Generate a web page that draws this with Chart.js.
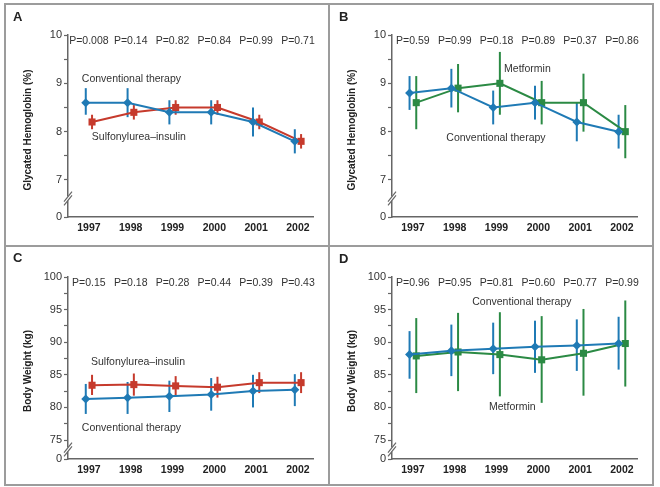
<!DOCTYPE html>
<html>
<head>
<meta charset="utf-8">
<script src="https://cdn.jsdelivr.net/npm/chart.js@4.4.0/dist/chart.umd.min.js"></script>
<style>
  body { margin: 0; background: #fff; width: 660px; height: 487px; position: relative; overflow: hidden; }
  canvas { position: absolute; }
  .frame { position: absolute; box-sizing: border-box; border: 2px solid #9c9c9c; left: 4px; top: 3px; width: 650px; height: 483px; }
  .vline { position: absolute; left: 328px; top: 3px; width: 2px; height: 483px; background: #9c9c9c; }
  .hline { position: absolute; left: 4px; top: 245px; width: 650px; height: 2px; background: #9c9c9c; }
</style>
</head>
<body>
<canvas id="chartA" width="323" height="241" style="left:5px;top:4px"></canvas>
<canvas id="chartB" width="322" height="241" style="left:330px;top:4px"></canvas>
<canvas id="chartC" width="323" height="237" style="left:5px;top:247px"></canvas>
<canvas id="chartD" width="322" height="237" style="left:330px;top:247px"></canvas>
<div class="frame"></div>
<div class="vline"></div>
<div class="hline"></div>
<script>
var years = [1997, 1998, 1999, 2000, 2001, 2002];

// y ticks (the lowest position of each axis is labelled "0" after the break)
var hbTicks = [7, 8, 9, 10];
var hbMinorTicks = [7.5, 8.5, 9.5];
var wtTicks = [75, 80, 85, 90, 95, 100];
var wtMinorTicks = [77.5, 82.5, 87.5, 92.5, 97.5];

// A - glycated hemoglobin, sulfonylurea-insulin vs conventional
var pValuesA = ['P=0.008', 'P=0.14', 'P=0.82', 'P=0.84', 'P=0.99', 'P=0.71'];
var hbConvA = [8.6, 8.6, 8.4, 8.4, 8.2, 7.8];
var hbConvALow = [8.35, 8.3, 8.15, 8.15, 7.9, 7.55];
var hbConvAHigh = [8.9, 8.9, 8.65, 8.65, 8.5, 8.05];
var hbSulf = [8.2, 8.4, 8.5, 8.5, 8.2, 7.8];
var hbSulfLow = [8.05, 8.25, 8.35, 8.35, 8.05, 7.65];
var hbSulfHigh = [8.35, 8.55, 8.65, 8.65, 8.35, 7.95];

// B - glycated hemoglobin, metformin vs conventional
var pValuesB = ['P=0.59', 'P=0.99', 'P=0.18', 'P=0.89', 'P=0.37', 'P=0.86'];
var hbConvB = [8.8, 8.9, 8.5, 8.6, 8.2, 8.0];
var hbConvBLow = [8.45, 8.5, 8.15, 8.25, 7.8, 7.65];
var hbConvBHigh = [9.15, 9.3, 8.85, 8.95, 8.6, 8.35];
var hbMet = [8.6, 8.9, 9.0, 8.6, 8.6, 8.0];
var hbMetLow = [8.05, 8.4, 8.35, 8.15, 8.0, 7.45];
var hbMetHigh = [9.15, 9.4, 9.65, 9.05, 9.2, 8.55];

// C - body weight, sulfonylurea-insulin vs conventional
var pValuesC = ['P=0.15', 'P=0.18', 'P=0.28', 'P=0.44', 'P=0.39', 'P=0.43'];
var wtConvC = [81.3, 81.5, 81.7, 82.0, 82.5, 82.7];
var wtConvCLow = [79.0, 79.0, 79.3, 79.5, 80.0, 80.2];
var wtConvCHigh = [83.6, 83.9, 84.1, 84.5, 85.0, 85.1];
var wtSulf = [83.4, 83.5, 83.3, 83.1, 83.8, 83.8];
var wtSulfLow = [81.9, 81.8, 81.8, 81.5, 82.2, 82.2];
var wtSulfHigh = [85.0, 85.2, 84.8, 84.7, 85.4, 85.4];

// D - body weight, metformin vs conventional
var pValuesD = ['P=0.96', 'P=0.95', 'P=0.81', 'P=0.60', 'P=0.77', 'P=0.99'];
var wtConvD = [88.1, 88.7, 89.0, 89.3, 89.5, 89.8];
var wtConvDLow = [84.4, 84.8, 85.1, 85.3, 85.6, 85.8];
var wtConvDHigh = [91.7, 92.7, 93.0, 93.3, 93.5, 93.9];
var wtMet = [87.9, 88.5, 88.1, 87.3, 88.3, 89.8];
var wtMetLow = [82.2, 82.5, 81.7, 80.7, 81.8, 83.2];
var wtMetHigh = [93.7, 94.5, 94.6, 94.0, 95.1, 96.4];

var blue = '#1f7ab5';
var red = '#c63a2c';
var green = '#2b8a44';
var axisColor = '#666';
var textColor = '#333';
var fontFamily = "'Liberation Sans', Arial, sans-serif";

// vertical error bars, drawn under lines and markers
var errorBars = {
    id: 'errorBars',
    beforeDatasetsDraw: function (chart) {
        var ctx = chart.ctx, xs = chart.scales.x, ys = chart.scales.y;
        chart.data.datasets.forEach(function (ds) {
            ctx.save();
            ctx.strokeStyle = ds.borderColor;
            ctx.lineWidth = 2;
            ds.data.forEach(function (p, i) {
                var px = xs.getPixelForValue(p.x);
                ctx.beginPath();
                ctx.moveTo(px, ys.getPixelForValue(ds.low[i]));
                ctx.lineTo(px, ys.getPixelForValue(ds.high[i]));
                ctx.stroke();
            });
            ctx.restore();
        });
    }
};

// panel letter, P values, series labels, y title and the axis break
var decorations = {
    id: 'decorations',
    afterDraw: function (chart, args, o) {
        var ctx = chart.ctx, xs = chart.scales.x, ys = chart.scales.y, area = chart.chartArea;
        ctx.save();
        ctx.textBaseline = 'middle';

        ctx.fillStyle = '#222';
        ctx.textAlign = 'left';
        ctx.font = 'bold 13px ' + fontFamily;
        ctx.fillText(o.letter, o.letterX, o.letterY);

        ctx.fillStyle = textColor;
        ctx.font = '10.5px ' + fontFamily;
        ctx.textAlign = 'center';
        o.pValues.forEach(function (t, i) {
            ctx.fillText(t, xs.getPixelForValue(years[i]), area.top + 6);
        });

        ctx.textAlign = 'left';
        o.notes.forEach(function (n) {
            ctx.fillText(n.text, xs.getPixelForValue(n.x), ys.getPixelForValue(n.y));
        });

        ctx.save();
        ctx.translate(o.titleX, o.titleY);
        ctx.rotate(-Math.PI / 2);
        ctx.textAlign = 'center';
        ctx.font = 'bold 10px ' + fontFamily;
        ctx.fillStyle = '#222';
        ctx.fillText(o.title, 0, 0);
        ctx.restore();

        // "//" break between the lowest labelled tick and zero
        var yb = (ys.getPixelForValue(ys.ticks[1].value) + area.bottom) / 2;
        var xb = area.left;
        ctx.fillStyle = '#fff';
        ctx.fillRect(xb - 2, yb - 2, 4, 4);
        ctx.strokeStyle = axisColor;
        ctx.lineWidth = 1.2;
        [-1.8, 1.8].forEach(function (d) {
            ctx.beginPath();
            ctx.moveTo(xb - 4, yb + d + 5);
            ctx.lineTo(xb + 4, yb + d - 5);
            ctx.stroke();
        });
        ctx.restore();
    }
};

function series(values, low, high, color, shape, shift) {
    return {
        data: values.map(function (v, i) { return { x: years[i] + shift, y: v }; }),
        low: low,
        high: high,
        borderColor: color,
        backgroundColor: color,
        borderWidth: 2,
        tension: 0,
        pointStyle: shape,
        pointRadius: shape == 'rectRot' ? 4.5 : 5,
        pointBorderWidth: 0
    };
}

function panel(id, g, yCfg, datasets, deco) {
    new Chart(document.getElementById(id), {
        type: 'line',
        data: { datasets: datasets },
        plugins: [errorBars, decorations],
        options: {
            responsive: false,
            animation: false,
            layout: { padding: { top: g.top, right: g.right, bottom: g.bottom, left: 0 } },
            plugins: { legend: { display: false }, tooltip: { enabled: false }, decorations: deco },
            scales: {
                x: {
                    type: 'linear',
                    min: 1996.5,
                    max: 2002.36,
                    afterBuildTicks: function (s) { s.ticks = years.map(function (v) { return { value: v }; }); },
                    afterFit: function (s) { s.height = 20; },
                    ticks: {
                        callback: function (v) { return String(v); },
                        autoSkip: false, maxRotation: 0, padding: 5,
                        color: '#222', font: { family: fontFamily, size: 10.5, weight: 'bold' }
                    },
                    grid: { display: false, drawTicks: false },
                    border: { display: true, color: axisColor, width: 1.5 }
                },
                y: {
                    type: 'linear',
                    min: yCfg.min,
                    max: yCfg.max,
                    afterBuildTicks: function (s) {
                        var vals = [yCfg.min].concat(yCfg.major, yCfg.minor).sort(function (a, b) { return a - b; });
                        s.ticks = vals.map(function (v) { return { value: v }; });
                    },
                    afterFit: function (s) { s.width = g.left; },
                    ticks: {
                        callback: function (v, i) {
                            if (i === 0) return '0';
                            return yCfg.major.indexOf(v) >= 0 ? String(v) : '';
                        },
                        autoSkip: false, padding: 2,
                        color: textColor, font: { family: fontFamily, size: 11 }
                    },
                    grid: { drawOnChartArea: false, tickLength: 4, tickColor: axisColor, tickWidth: 1.2 },
                    border: { color: axisColor, width: 1.5 }
                }
            }
        }
    });
}

var hbAxis = { min: 6.234, max: 10, major: hbTicks, minor: hbMinorTicks };
var wtAxis = { min: 72.09, max: 100, major: wtTicks, minor: wtMinorTicks };

panel('chartA', { left: 63, top: 31, right: 15, bottom: 8 }, hbAxis, [
    series(hbConvA, hbConvALow, hbConvAHigh, blue, 'rectRot', -0.075),
    series(hbSulf, hbSulfLow, hbSulfHigh, red, 'rect', 0.075)
], {
    letter: 'A', letterX: 8, letterY: 13,
    title: 'Glycated Hemoglobin (%)', titleX: 23, titleY: 126,
    pValues: pValuesA,
    notes: [
        { text: 'Conventional therapy', x: 1996.83, y: 9.09 },
        { text: 'Sulfonylurea\u2013insulin', x: 1997.07, y: 7.89 }
    ]
});

panel('chartB', { left: 62, top: 31, right: 15, bottom: 8 }, hbAxis, [
    series(hbConvB, hbConvBLow, hbConvBHigh, blue, 'rectRot', -0.08),
    series(hbMet, hbMetLow, hbMetHigh, green, 'rect', 0.08)
], {
    letter: 'B', letterX: 9, letterY: 13,
    title: 'Glycated Hemoglobin (%)', titleX: 22, titleY: 126,
    pValues: pValuesB,
    notes: [
        { text: 'Metformin', x: 1999.18, y: 9.30 },
        { text: 'Conventional therapy', x: 1997.80, y: 7.87 }
    ]
});

panel('chartC', { left: 63, top: 30, right: 15, bottom: 5 }, wtAxis, [
    series(wtConvC, wtConvCLow, wtConvCHigh, blue, 'rectRot', -0.075),
    series(wtSulf, wtSulfLow, wtSulfHigh, red, 'rect', 0.075)
], {
    letter: 'C', letterX: 8, letterY: 11,
    title: 'Body Weight (kg)', titleX: 23, titleY: 124,
    pValues: pValuesC,
    notes: [
        { text: 'Sulfonylurea\u2013insulin', x: 1997.05, y: 86.9 },
        { text: 'Conventional therapy', x: 1996.83, y: 76.9 }
    ]
});

panel('chartD', { left: 62, top: 30, right: 15, bottom: 5 }, wtAxis, [
    series(wtConvD, wtConvDLow, wtConvDHigh, blue, 'rectRot', -0.08),
    series(wtMet, wtMetLow, wtMetHigh, green, 'rect', 0.08)
], {
    letter: 'D', letterX: 9, letterY: 12,
    title: 'Body Weight (kg)', titleX: 22, titleY: 124,
    pValues: pValuesD,
    notes: [
        { text: 'Conventional therapy', x: 1998.42, y: 96.15 },
        { text: 'Metformin', x: 1998.82, y: 80.0 }
    ]
});
</script>
</body>
</html>
